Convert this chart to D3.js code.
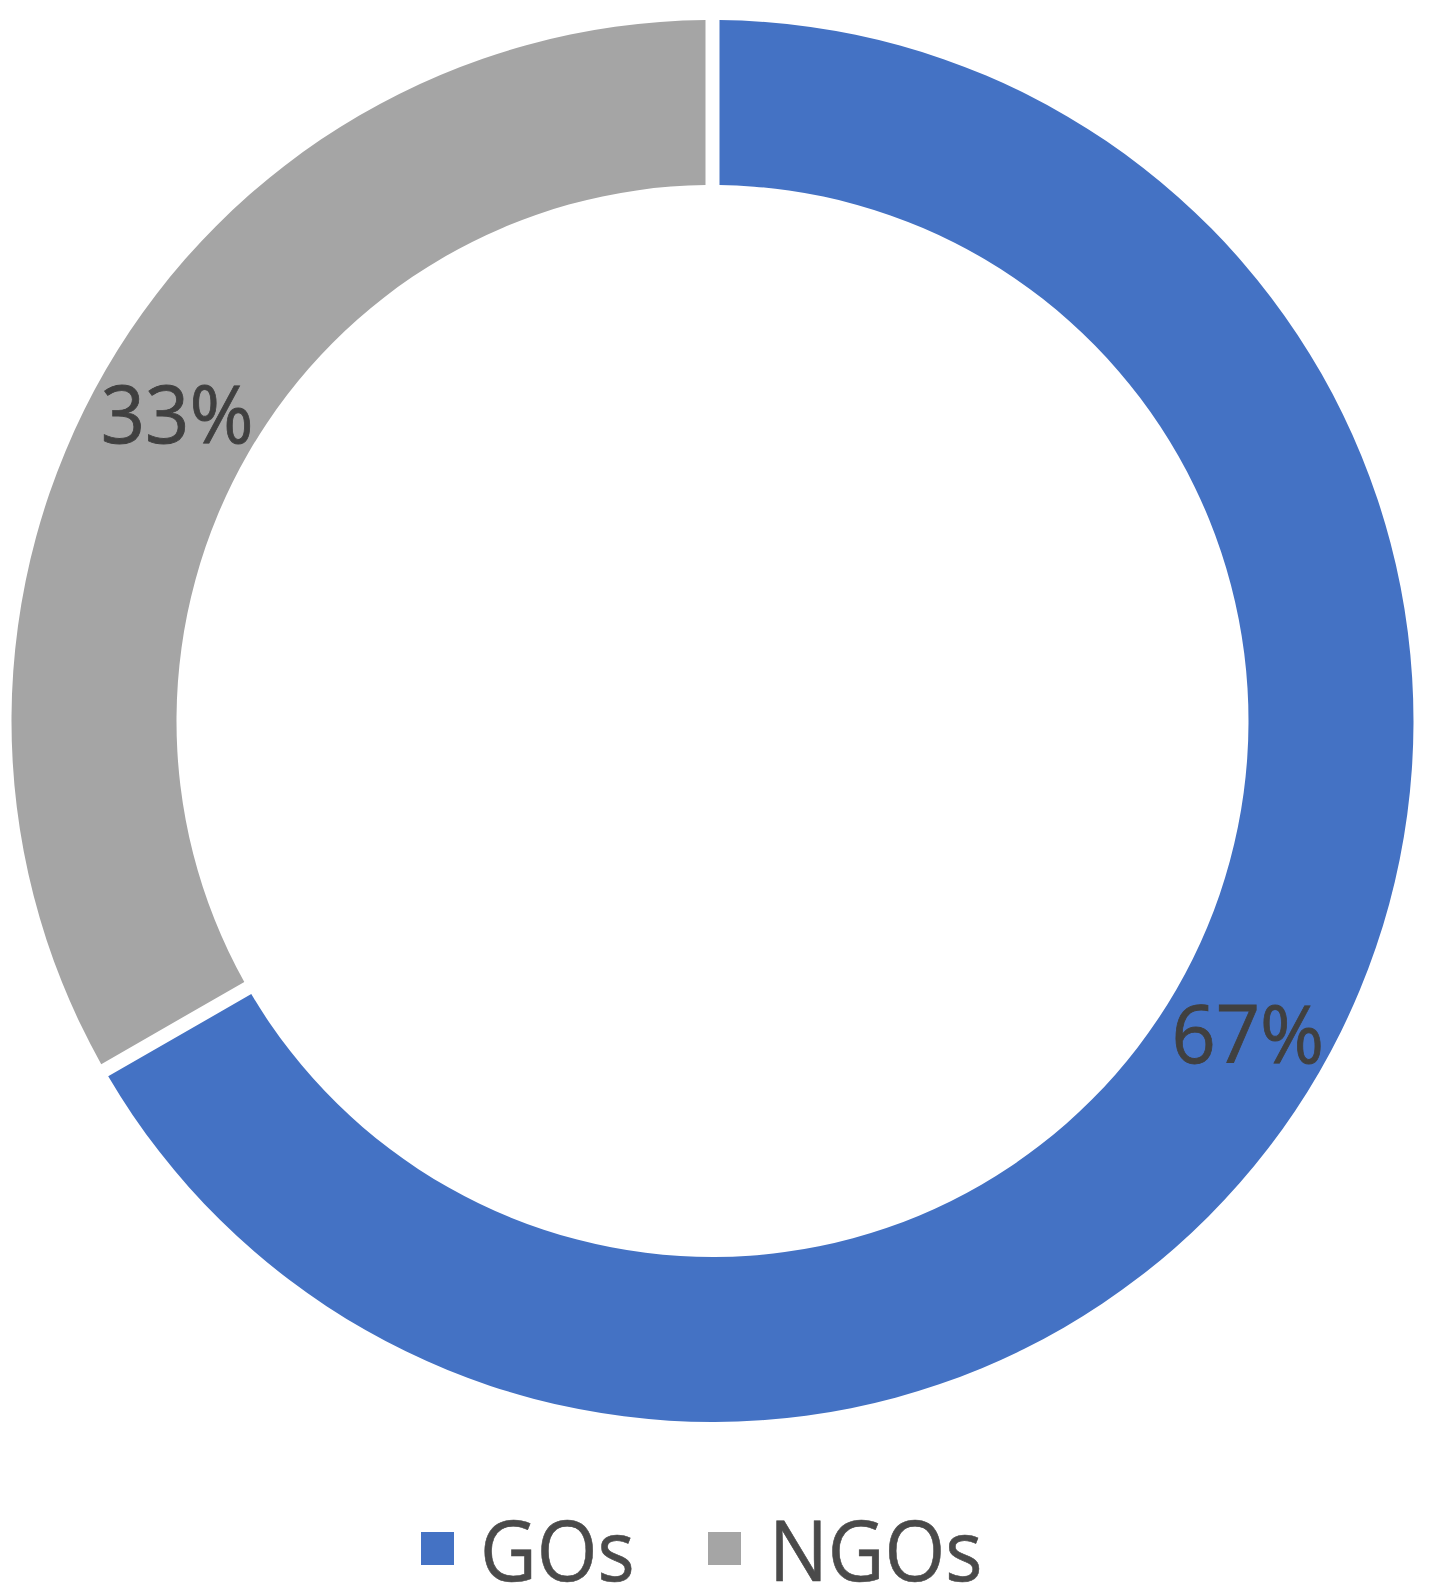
<!DOCTYPE html>
<html>
<head>
<meta charset="utf-8">
<script src="https://cdn.jsdelivr.net/npm/d3@7"></script>
<style>
  html, body { margin: 0; padding: 0; background: #ffffff; }
  svg { display: block; }
</style>
</head>
<body>
<svg id="chart" width="1429" height="1596"></svg>
<script>
const categories = ["GOs", "NGOs"];
const values = [66.7, 33.3];
const labels = ["67%", "33%"];
const colors = ["#4472C4", "#A5A5A5"];

const svg = d3.select("#chart");
const cx = 712.5, cy = 721;
const outerR = 701, innerR = 536;
const gap = 14;

const pie = d3.pie().sort(null).value(d => d.value).startAngle(0).endAngle(2 * Math.PI);
const data = categories.map((c, i) => ({ name: c, value: values[i], label: labels[i], color: colors[i] }));
const arcs = pie(data);

const arc = d3.arc()
  .innerRadius(innerR)
  .outerRadius(outerR)
  .padRadius(outerR)
  .padAngle(gap / outerR);

const labelArc = d3.arc().innerRadius(innerR).outerRadius(outerR);

const g = svg.append("g").attr("transform", `translate(${cx},${cy})`);

g.selectAll("path.slice")
  .data(arcs)
  .join("path")
  .attr("class", "slice")
  .attr("d", arc)
  .attr("fill", d => d.data.color);

g.selectAll("text.lbl")
  .data(arcs)
  .join("text")
  .attr("class", "lbl")
  .attr("transform", d => {
    const [x, y] = labelArc.centroid(d);
    return `translate(${x},${y + 32}) scale(0.97,1)`;
  })
  .attr("text-anchor", "middle")
  .attr("font-family", "'Open Sans', 'Noto Sans', sans-serif")
  .attr("font-size", 80)
  .attr("fill", "#404040")
  .attr("stroke", "#404040")
  .attr("stroke-width", 0.8)
  .text(d => d.data.label);

// Legend
const legendItems = [
  { name: categories[0], color: colors[0], sx: 421, tx: 480 },
  { name: categories[1], color: colors[1], sx: 708, tx: 769 }
];
const lg = svg.append("g");
lg.selectAll("rect")
  .data(legendItems)
  .join("rect")
  .attr("x", d => d.sx)
  .attr("y", 1532)
  .attr("width", 33)
  .attr("height", 33)
  .attr("fill", d => d.color);

lg.selectAll("text")
  .data(legendItems)
  .join("text")
  .attr("transform", d => `translate(${d.tx},1581) scale(0.93,1)`)
  .attr("font-family", "'Open Sans', 'Noto Sans', sans-serif")
  .attr("font-size", 84)
  .attr("fill", "#4a4a4a")
  .attr("stroke", "#4a4a4a")
  .attr("stroke-width", 0.6)
  .text(d => d.name);
</script>
</body>
</html>
